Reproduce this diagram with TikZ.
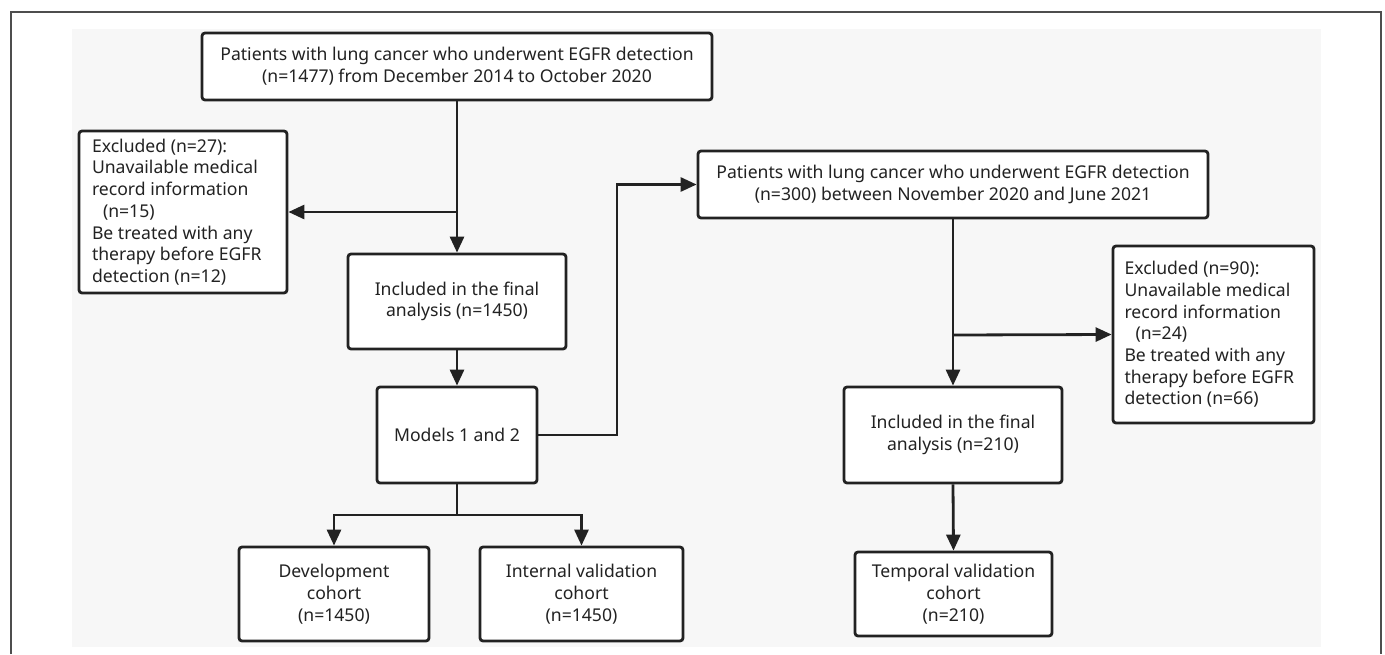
\documentclass[tikz,border=0pt]{standalone}
\usepackage{fontspec}
\setmainfont{Noto Sans}
\usetikzlibrary{arrows.meta}
\definecolor{bggrey}{HTML}{F7F7F7}
\definecolor{ink}{HTML}{222222}
\tikzset{
  box/.style={draw=ink, line width=2.8pt, fill=white, rounded corners=3pt,
    inner sep=0pt, align=center, text=ink, font=\fontsize{17.6}{21.7}\selectfont},
  conn/.style={draw=ink, line width=2.8pt},
  arr/.style={conn, -{Triangle[length=16pt,width=14pt]}}
}
\begin{document}
\begin{tikzpicture}[x=1pt,y=-1pt]
\useasboundingbox (0,0) rectangle (1385,654);
\fill[white] (0,0) rectangle (1385,654);
\fill[bggrey] (72,29) rectangle (1321,647);
\draw[ink!80, line width=1.5pt] (11,654) -- (11,12) -- (1381,12) -- (1381,654);

\node[box, minimum width=510pt, minimum height=67pt] (top) at (457,66.5)
  {Patients with lung cancer who underwent EGFR detection\\(n=1477) from December 2014 to October 2020};
\node[box, minimum width=208pt, minimum height=162pt] (exL) at (183,212)
  {\begin{minipage}{182pt}\raggedright Excluded (n=27):\\Unavailable medical\\record information\\\hspace*{11pt}(n=15)\\Be treated with any\\therapy before EGFR\\detection (n=12)\end{minipage}};
\node[box, minimum width=218pt, minimum height=95pt] (inc1) at (457,301.5)
  {Included in the final\\analysis (n=1450)};
\node[box, minimum width=160pt, minimum height=96pt] (models) at (457,435)
  {Models 1 and 2};
\node[box, minimum width=190pt, minimum height=94pt] (dev) at (334,594)
  {Development\\cohort\\(n=1450)};
\node[box, minimum width=203pt, minimum height=94pt] (intv) at (581.5,594)
  {Internal validation\\cohort\\(n=1450)};
\node[box, minimum width=510pt, minimum height=67pt] (top2) at (953,184.5)
  {Patients with lung cancer who underwent EGFR detection\\(n=300) between November 2020 and June 2021};
\node[box, minimum width=201pt, minimum height=177pt] (exR) at (1213.5,334.5)
  {\begin{minipage}{178pt}\raggedright Excluded (n=90):\\Unavailable medical\\record information\\\hspace*{11pt}(n=24)\\Be treated with any\\therapy before EGFR\\detection (n=66)\end{minipage}};
\node[box, minimum width=218pt, minimum height=96pt] (inc2) at (953,435)
  {Included in the final\\analysis (n=210)};
\node[box, minimum width=197pt, minimum height=84pt] (temp) at (953.5,594)
  {Temporal validation\\cohort\\(n=210)};

\coordinate (bL) at (457,212);
\coordinate (bR) at (953,335);
\coordinate (m1) at (617,435);
\coordinate (m2) at (617,184.5);
\coordinate (s0) at (457,515);
\coordinate (sL) at (334,515);
\coordinate (sR) at (581.5,515);

\draw[arr] (top.south) -- (inc1.north);
\draw[arr] (bL) -- (exL.east);
\draw[arr] (inc1.south) -- (models.north);
\draw[arr] (models.east) -- (m1) -- (m2) -- (top2.west);
\draw[conn] (models.south) -- (s0);
\draw[arr] (s0) -- (sL) -- (dev.north);
\draw[arr] (s0) -- (sR) -- (intv.north);
\draw[arr] (top2.south) -- (inc2.north);
\draw[arr] (bR) -- (exR.west);
\draw[arr] (inc2.south) -- (temp.north);
\end{tikzpicture}
\end{document}
